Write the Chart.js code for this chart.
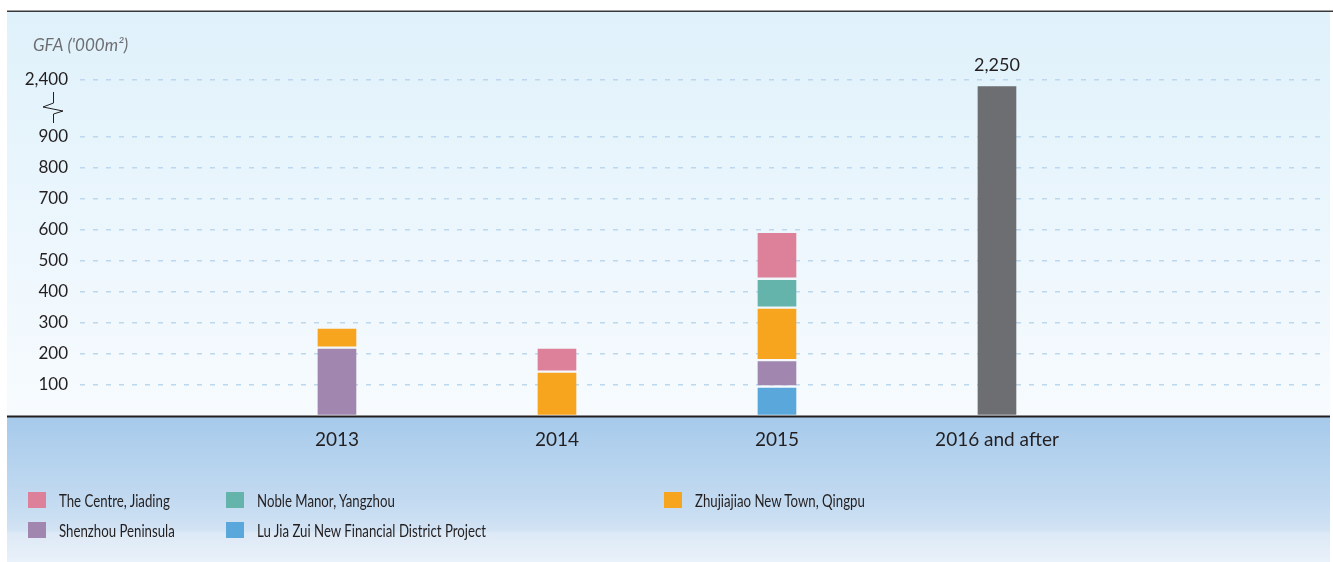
<!DOCTYPE html>
<html>
<head>
<meta charset="utf-8">
<script src="https://cdn.jsdelivr.net/npm/chart.js@4"></script>
<style>
  body { margin: 0; background: #fff; font-family: Lato, "Open Sans", sans-serif; }
  #wrap { position: relative; width: 1333px; height: 562px; }
  #legend { position: absolute; left: 0; top: 0; width: 100%; height: 100%; pointer-events: none; }
  .item { position: absolute; font-size: 18px; color: #231f20; white-space: nowrap; line-height: 20px; }
  .item span { position: absolute; left: 0; top: 2px; width: 18px; height: 16px; }
  .item b { font-weight: normal; position: absolute; left: 31px; top: 0; transform: scaleX(0.735); transform-origin: 0 50%; }
</style>
</head>
<body>
<div id="wrap">
  <canvas id="chart" width="1333" height="562"></canvas>
  <div id="legend"></div>
</div>
<script>
const categories = ["2013", "2014", "2015", "2016 and after"];

// GFA ('000 sq m) per project, bottom to top of each stack
const luJiaZui   = [null, null, 95, null];
const shenzhou   = [220, null, 85, null];
const zhujiajiao = [65, 143, 169, null];
const nobleManor = [null, null, 93, null];
const theCentre  = [null, 77, 151, null];
const later      = [null, null, null, 2250];

const yTicks = [100, 200, 300, 400, 500, 600, 700, 800, 900, 2400];

// axis is broken above 900
const BREAK_FROM = 900, BREAK_TOP = 2400, BREAK_TOP_AT = 1084;
function brk(v) {
  if (v == null) return null;
  if (v <= BREAK_FROM) return v;
  return BREAK_FROM + (v - BREAK_FROM) * (BREAK_TOP_AT - BREAK_FROM) / (BREAK_TOP - BREAK_FROM);
}
function pts(arr) {
  return arr.map((v, i) => ({ x: i, y: brk(v) }));
}

const FONT = "Lato, 'Open Sans', sans-serif";
const TEXT = "#231f20";

function ds(label, arr, color) {
  return {
    label: label,
    data: pts(arr),
    backgroundColor: color,
    borderColor: "rgba(0,0,0,0)",
    borderWidth: 1.5,
    borderSkipped: false,
    barThickness: 41
  };
}

const datasets = [
  ds("Lu Jia Zui New Financial District Project", luJiaZui, "#5aa7dc"),
  ds("Shenzhou Peninsula", shenzhou, "#a186b0"),
  ds("Zhujiajiao New Town, Qingpu", zhujiajiao, "#f7a51f"),
  ds("Noble Manor, Yangzhou", nobleManor, "#65b4ab"),
  ds("The Centre, Jiading", theCentre, "#dc8199"),
  ds("2016 and after", later, "#6d6e71")
];

// background panels, axis line, break mark, unit label, value label
const decor = {
  id: "decor",
  beforeDraw(chart) {
    const c = chart.ctx;
    c.save();
    let g = c.createLinearGradient(0, 12, 0, 416);
    g.addColorStop(0, "#dff1fb");
    g.addColorStop(1, "#f7fbfe");
    c.fillStyle = g;
    c.fillRect(7, 12, 1323, 404);
    g = c.createLinearGradient(0, 417, 0, 562);
    g.addColorStop(0, "#a6caeb");
    g.addColorStop(0.6, "#c4dbf1");
    g.addColorStop(0.78, "#d2e3f4");
    g.addColorStop(0.8, "#dde9f6");
    g.addColorStop(1, "#e9f1fa");
    c.fillStyle = g;
    c.fillRect(7, 417, 1323, 145);
    c.fillStyle = "#3a3a3a";
    c.fillRect(7, 10.5, 1326, 1.5);
    c.restore();
  },
  afterDraw(chart) {
    const c = chart.ctx;
    c.save();
    c.fillStyle = "#231f20";
    c.fillRect(7, 415.5, 1323, 2);
    // break mark
    c.strokeStyle = "#231f20";
    c.lineWidth = 1;
    c.beginPath();
    c.moveTo(53.5, 92);
    c.lineTo(53.5, 103);
    c.lineTo(43, 107);
    c.lineTo(63, 111);
    c.lineTo(53.5, 114);
    c.lineTo(53.5, 123);
    c.stroke();
    // unit
    c.fillStyle = "#6d6e71";
    c.font = "italic 17px " + FONT;
    c.textBaseline = "middle";
    c.fillText("GFA ('000m\u00b2)", 33, 46);
    // total label over the last bar
    const meta = chart.getDatasetMeta(datasets.length - 1);
    const bar = meta.data[3];
    c.fillStyle = TEXT;
    c.font = "18px " + FONT;
    c.textAlign = "center";
    c.fillText(later[3].toLocaleString("en-US"), bar.x, bar.y - 20);
    c.restore();
  }
};

new Chart(document.getElementById("chart"), {
  type: "bar",
  data: { datasets: datasets },
  options: {
    responsive: false,
    animation: false,
    layout: { padding: { top: 59, right: 8, left: 0, bottom: 0 } },
    plugins: { legend: { display: false }, tooltip: { enabled: false } },
    scales: {
      x: {
        type: "linear",
        stacked: true,
        offset: false,
        min: -1.168,
        max: 4.491,
        afterBuildTicks: s => { s.ticks = categories.map((c, i) => ({ value: i })); },
        afterFit: s => { s.height = 146; },
        ticks: {
          callback: (v, i) => categories[i],
          color: TEXT,
          font: { family: FONT, size: 19 },
          padding: 12,
          maxRotation: 0,
          autoSkip: false
        },
        grid: { display: false, drawTicks: false, offset: false },
        border: { display: false }
      },
      y: {
        stacked: true,
        min: 0,
        max: 1150,
        afterBuildTicks: s => { s.ticks = yTicks.map(v => ({ value: brk(v) })); },
        afterFit: s => { s.width = 80; },
        ticks: {
          callback: (v, i) => yTicks[i].toLocaleString("en-US"),
          color: TEXT,
          font: { family: FONT, size: 17 },
          padding: 12
        },
        grid: { color: "#bcd7ee", lineWidth: 1.5, drawTicks: false },
        border: { display: false, dash: [5, 8] }
      }
    }
  },
  plugins: [decor]
});

// legend laid out in the reference grid
const legendSpots = [
  [4, 28, 500], [3, 226, 500], [2, 664, 500],
  [1, 28, 530], [0, 226, 530]
];
const legend = document.getElementById("legend");
legendSpots.forEach(([k, x, y]) => {
  const d = datasets[k];
  const div = document.createElement("div");
  div.className = "item";
  div.style.left = x + "px";
  div.style.top = (y - 10) + "px";
  div.innerHTML = `<span style="background:${d.backgroundColor}"></span><b>${d.label}</b>`;
  legend.appendChild(div);
});
</script>
</body>
</html>
